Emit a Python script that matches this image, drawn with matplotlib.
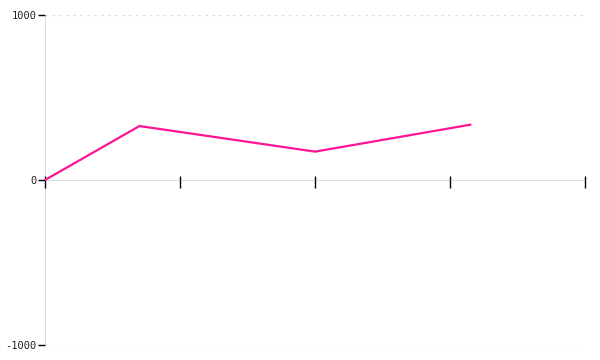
import matplotlib
matplotlib.use("Agg")
import matplotlib.pyplot as plt

x_vals = [0, 0.70, 2.0, 3.15]
y_vals = [0, 327, 172, 335]
y_ticks = [-1000, 0, 1000]
x_ticks = [0, 1, 2, 3, 4]

fig = plt.figure(figsize=(6, 3.6), dpi=100)
ax = fig.add_axes([45/600, 1-345/360, 540/600, 330/360])
ax.set_xlim(0, 4)
ax.set_ylim(-1000, 1000)

for yv in [-1000, 1000]:
    ax.axhline(yv, color="#dedede", lw=1, ls=(0, (2, 3)), zorder=1)

ax.plot(x_vals, y_vals, color="#ff1493", lw=1.6, zorder=3, solid_joinstyle="miter")

for s in ["top", "right"]:
    ax.spines[s].set_visible(False)
ax.spines["bottom"].set_position(("data", 0))
ax.spines["bottom"].set_color("#dddddd")
ax.spines["left"].set_color("#dddddd")
ax.spines["bottom"].set_zorder(0)
ax.spines["left"].set_zorder(0)

ax.set_yticks(y_ticks)
ax.set_yticklabels([str(v) for v in y_ticks], family="DejaVu Sans Mono", fontsize=7.5, color="#222222")
ax.xaxis.remove_overlapping_locs = False
ax.set_xticks(x_ticks)
ax.set_xticklabels([])
ax.set_xticks(x_ticks, minor=True)
ax.tick_params(axis="y", direction="out", length=5, width=1, color="black", pad=1)
ax.tick_params(axis="x", which="major", direction="out", length=6, width=1, color="black")
ax.tick_params(axis="x", which="minor", direction="in", length=3, width=1, color="black")

fig.savefig("out.png", dpi=100)
